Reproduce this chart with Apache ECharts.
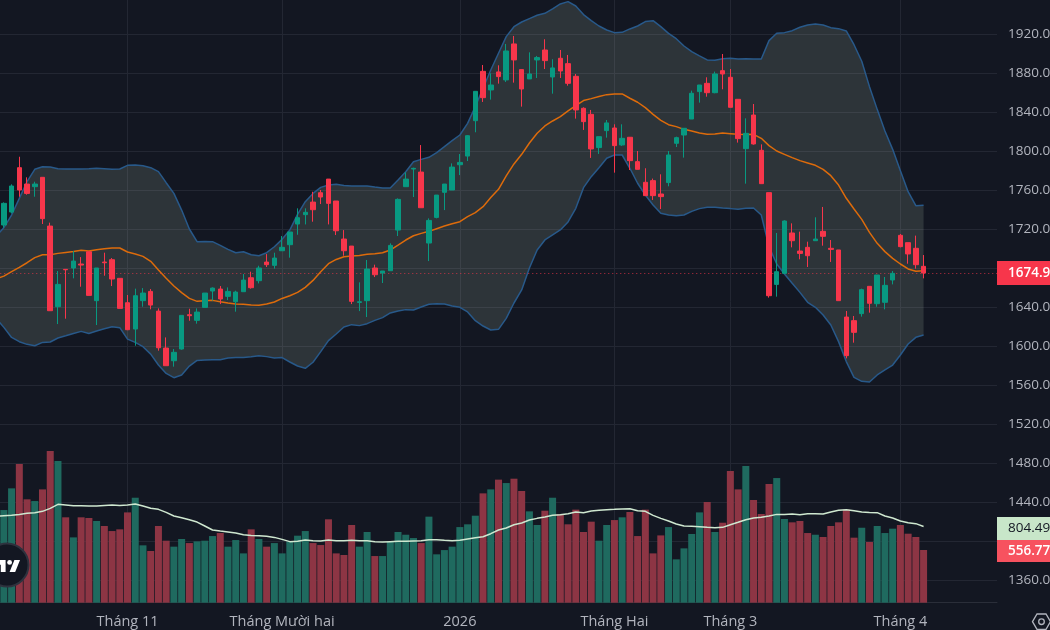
<!DOCTYPE html>
<html lang="vi">
<head>
<meta charset="utf-8">
<title>Chart</title>
<script src="https://cdn.jsdelivr.net/npm/echarts@6/dist/echarts.min.js"></script>
<style>
  html, body { margin: 0; padding: 0; background: #131722; overflow: hidden; }
  #chart { width: 1050px; height: 630px; }
</style>
</head>
<body>
<div id="chart"></div>
<script>
// one empty slot comes first so the lines can run in from the left edge
var monthSlots = [17, 37, 60, 80, 95, 117];
var monthLabels = ['Tháng 11', 'Tháng Mười hai', '2026', 'Tháng Hai', 'Tháng 3', 'Tháng 4'];

var priceTicks = [1320, 1960, 40];

// open, close, low, high
var candles = [
  ['-','-','-','-'],
  [1724.1,1746.3,1721.3,1747.3],[1737.4,1764.1,1736.0,1765.8],[1782.9,1760.0,1753.1,1794.1],[1766.1,1756.5,1755.2,1773.0],
  [1763.4,1766.1,1753.1,1768.5],[1773.0,1730.6,1725.1,1773.0],[1723.0,1636.2,1636.2,1726.5],[1640.3,1663.2,1622.5,1676.9],
  [1678.6,1678.2,1628.0,1678.6],[1680.0,1687.1,1669.4,1697.4],[1684.1,1683.0,1660.8,1691.2],[1696.7,1651.9,1651.9,1696.7],
  [1646.5,1680.0,1621.5,1680.0],[1686.1,1685.4,1672.1,1695.7],[1688.5,1668.7,1661.5,1690.2],[1669.4,1638.6,1638.6,1669.4],
  [1644.4,1616.7,1616.3,1652.3],[1617.4,1651.6,1600.3,1658.8],[1646.5,1654.3,1640.3,1659.4],[1656.0,1642.0,1637.6,1658.4],
  [1635.8,1598.2,1595.2,1638.6],[1597.9,1579.8,1579.8,1608.8],[1584.9,1593.5,1578.8,1596.9],[1596.9,1631.4,1596.2,1631.4],
  [1632.1,1631.1,1625.9,1638.2],[1626.3,1634.8,1622.9,1638.6],[1639.6,1654.3,1639.6,1654.3],[1656.4,1659.4,1646.5,1660.1],
  [1658.4,1648.2,1643.0,1661.5],[1650.9,1656.0,1647.1,1660.1],[1645.4,1655.3,1635.2,1656.7],[1655.7,1667.6,1655.7,1673.8],
  [1670.0,1659.8,1658.8,1676.2],[1667.0,1680.0,1664.2,1682.3],[1686.1,1683.4,1681.0,1694.3],[1682.7,1690.2,1679.3,1695.7],
  [1697.7,1701.2,1697.7,1712.8],[1703.9,1716.9,1690.6,1716.9],[1725.1,1731.6,1714.1,1741.2],[1734.7,1737.1,1724.7,1741.2],
  [1747.6,1739.8,1727.5,1758.2],[1757.2,1752.8,1745.6,1760.0],[1771.2,1746.3,1724.7,1771.2],[1748.7,1718.2,1713.8,1748.7],
  [1709.7,1697.7,1692.6,1718.9],[1702.5,1645.8,1643.0,1702.5],[1644.7,1645.4,1635.8,1665.3],[1646.5,1678.9,1629.7,1688.2],
  [1680.0,1673.1,1670.7,1683.4],[1674.8,1676.9,1664.6,1676.9],[1677.2,1703.2,1677.2,1705.3],[1718.9,1750.4,1712.8,1751.4],
  [1763.4,1771.2,1763.4,1778.1],[1781.5,1782.2,1752.8,1782.9],[1778.4,1741.8,1741.8,1806.1],[1705.6,1728.8,1687.1,1730.9],
  [1731.9,1754.8,1730.9,1754.8],[1757.6,1766.1,1739.4,1766.1],[1760.0,1783.5,1760.0,1787.3],[1785.9,1788.3,1775.3,1796.9],
  [1794.8,1815.7,1789.7,1816.4],[1831.1,1861.2,1819.2,1861.2],[1881.7,1854.7,1850.3,1888.2],[1862.6,1867.7,1852.7,1879.7],
  [1881.1,1876.3,1869.1,1887.9],[1872.9,1902.6,1870.8,1909.8],[1909.8,1893.4,1870.1,1918.0],[1883.5,1863.6,1845.5,1883.5],
  [1873.9,1879.0,1873.9,1901.2],[1893.4,1895.8,1874.9,1897.5],[1903.6,1892.7,1884.1,1914.6],[1875.9,1885.2,1858.8,1894.1],
  [1895.1,1882.1,1874.9,1903.6],[1889.6,1869.4,1867.0,1898.5],[1876.6,1842.1,1833.2,1879.0],[1843.8,1830.1,1821.6,1844.8],
  [1837.6,1802.1,1792.9,1842.1],[1803.5,1814.7,1797.0,1814.7],[1820.9,1828.8,1813.7,1831.8],[1823.6,1805.5,1777.8,1827.4],
  [1806.2,1813.0,1805.2,1827.4],[1814.1,1790.1,1780.5,1814.1],[1789.1,1781.2,1781.2,1800.0],[1767.9,1754.2,1754.2,1782.3],
  [1769.6,1754.2,1749.8,1771.7],[1755.9,1753.2,1740.5,1776.1],[1767.6,1795.9,1763.8,1800.0],[1807.9,1813.7,1804.1,1814.7],
  [1816.4,1823.3,1793.2,1823.3],[1832.8,1859.2,1832.8,1861.9],[1860.9,1867.7,1849.6,1867.7],[1869.4,1859.8,1855.7,1875.6],
  [1859.8,1879.0,1859.2,1881.4],[1882.4,1879.0,1863.3,1899.5],[1875.6,1844.8,1844.8,1884.1],[1853.0,1812.7,1808.6,1853.0],
  [1802.4,1818.1,1766.5,1833.5],[1836.9,1807.2,1806.5,1848.2],[1800.7,1766.5,1766.5,1806.8],[1757.3,1651.6,1649.6,1757.3],
  [1663.2,1676.2,1650.6,1715.9],[1674.5,1728.2,1674.5,1728.9],[1715.9,1708.0,1701.2,1725.8],[1697.4,1695.0,1688.9,1717.3],
  [1701.2,1692.6,1681.0,1707.0],[1708.0,1709.7,1708.0,1732.0],[1717.6,1712.5,1702.9,1742.6],[1700.2,1699.1,1686.2,1708.7],
  [1698.5,1646.5,1646.5,1698.5],[1629.7,1590.1,1587.3,1635.9],[1626.0,1614.0,1603.4,1630.8],[1633.2,1657.8,1630.1,1658.8],
  [1661.2,1643.8,1634.2,1661.2],[1643.4,1672.8,1640.3,1672.8],[1644.8,1662.2,1637.6,1670.8],[1667.7,1674.5,1663.2,1676.9],
  [1713.5,1701.9,1701.2,1714.9],[1706.0,1694.4,1684.4,1706.0],[1700.2,1683.4,1679.3,1713.2],[1681.7,1674.9,1669.4,1693.3]
];

var bandMiddle = [
  1668.7,1671.7,1676.2,1680.6,1685.4,1690.6,1693.6,1693.6,1695,1696,1697,1698.1,1697.4,1698.8,1699.8,1700.5,1700.5,
  1696.4,1694.3,1691.9,1686.8,1677.9,1669.4,1661.5,1654.7,1648.8,1645.8,1646.5,1646.8,1645.4,1644.1,1643,1642.7,1642,1641.7,
  1643,1645.1,1648.8,1651.6,1655,1660.1,1667.3,1676.2,1684.4,1688.8,1691.6,1692.3,1692.9,1694,1694.7,1695.7,1698.4,1703.5,
  1708.7,1713.1,1715.5,1717.6,1720.3,1723,1725.4,1727.5,1732.7,1736.8,1742.9,1752.2,1760.7,1774.4,1786.7,1796.6,1808.2,1818.2,
  1825.7,1830.8,1835.2,1841.1,1846.5,1851.7,1853.7,1855.8,1857.8,1858.5,1858.5,1854.1,1850,1844.5,1837.6,1831.5,1827,1825,
  1822.2,1820.5,1818.5,1817.1,1817.4,1818.5,1817.8,1817.1,1816.8,1817.1,1813,1805.5,1800,1796.6,1793.2,1790.1,1787.7,1785.3,
  1781.2,1774.7,1765.1,1751.5,1740.5,1729.9,1716.6,1705.3,1696.8,1689.9,1684.1,1679,1676.6,1677.3
];

var bandUpper = [
  1712.8,1721.3,1734.3,1751.4,1768.5,1781.2,1783.9,1783.5,1781.8,1781.5,1781.5,1781.5,1781.8,1782.2,1781.8,1781.2,1781.5,
  1785.3,1785.6,1784.9,1782.9,1778.8,1767.5,1756.5,1739.4,1720,1707,1707.3,1707,1703.2,1699.1,1695.7,1696.7,1693.6,1692.6,
  1695.7,1701.8,1709.4,1718.9,1735,1748,1756.5,1762.7,1765.1,1765.8,1764.7,1764.1,1764.1,1764.1,1763,1762,1762,1770.2,
  1778.8,1789,1791.4,1793.5,1798.3,1804.4,1810.6,1816.4,1828.4,1845.5,1864.3,1883.1,1900.2,1917.3,1927.5,1932.3,1935.8,1939.2,
  1941.2,1945.7,1950.8,1953.2,1948.7,1939.9,1933.7,1928.2,1924.1,1921.4,1921.7,1925.2,1928.2,1932.7,1933.7,1927.5,1920.7,1915.2,
  1907.7,1901.9,1897.5,1893.4,1893,1894.7,1895.1,1894.4,1894.7,1894.4,1894.4,1913.2,1920.7,1921.4,1923.4,1926.9,1929.3,1930.3,
  1929.3,1926.5,1925.5,1923.1,1909,1892,1866,1842.7,1820.5,1801.7,1779.8,1758.3,1743.9,1744.3
];

var bandLower = [
  1628.3,1619.1,1608.8,1604.4,1601.7,1600.3,1603.7,1604.1,1608.2,1610.5,1612.9,1615,1612.9,1615.3,1617.7,1619.8,1618.8,
  1607.1,1603.7,1599.3,1591.7,1580.5,1571.9,1567.5,1570.2,1579.4,1585.2,1585.6,1585.9,1585.9,1587.6,1588.3,1588.3,1589,1590,
  1589.1,1587.7,1588.1,1583.6,1579.5,1577.1,1583.3,1594.2,1605.5,1612.3,1619.5,1621.9,1620.9,1622.9,1626.3,1629.1,1633.9,1635.9,
  1637.3,1636.9,1640,1642.8,1643.4,1643.1,1641,1639.7,1634.9,1626,1620.5,1616.4,1617.1,1628.4,1644.1,1657.5,1680,1698.5,
  1708.8,1713.9,1719,1727.2,1741.2,1762.4,1773.7,1782.9,1792.5,1795.9,1795.9,1782.3,1766.9,1754.9,1744.6,1736.1,1734.4,1733.7,
  1734.4,1738.1,1740.9,1742.2,1742.2,1741.5,1740.9,1740.2,1741.2,1741.5,1734.4,1701.9,1684.1,1673.8,1664.3,1655,1644.8,1639.7,
  1631.8,1621.5,1604.5,1584,1567.9,1563.8,1563.1,1570.3,1575.4,1580.5,1590.8,1602.1,1608.9,1611.3
];

var volumes = [
  '-',
  979,1208,1465,1092,1074,1197,1603,1497,902,690,902,895,863,810,757,775,954,1109,606,546,
  810,655,592,673,630,648,655,704,736,592,662,521,775,673,592,630,521,645,708,757,
  630,609,881,521,504,821,592,747,493,493,645,747,718,683,630,909,511,556,592,799,
  828,919,1155,1197,1300,1264,1310,1180,965,821,972,1109,937,828,983,747,856,655,821,873,
  902,958,704,983,521,711,799,458,574,726,954,1064,747,845,1391,1197,1444,1085,937,1254,
  1317,884,849,863,736,718,694,810,849,983,687,792,641,810,736,782,821,729,694,556.77
];

var volumeAverage = [
  912,919,923,933,944,951,965,997,1039,1032,1025,1025,1021,1021,1028,1032,1028,1032,1043,1021,997,
  986,954,916,898,877,852,810,768,757,747,736,718,711,708,701,690,669,645,648,662,
  655,652,662,655,655,659,655,655,645,641,645,648,648,652,655,666,666,659,655,659,
  673,687,697,729,768,789,824,842,873,891,905,923,930,940,958,951,969,976,983,986,
  990,993,972,965,923,891,863,831,810,807,803,796,792,796,824,849,877,895,902,916,
  933,933,937,930,940,940,937,958,976,983,972,958,954,951,916,895,863,845,835,804.49
];

var slotCount = 130;
var categories = [];
for (var i = 0; i < slotCount; i++) {
  var at = monthSlots.indexOf(i);
  categories.push(at >= 0 ? monthLabels[at] : '');
}

var bandSpread = bandUpper.map(function (v, i) { return +(v - bandLower[i]).toFixed(1); });
var lastClose = candles[candles.length - 1][1];
var lastVolume = volumes[volumes.length - 1];
var lastAverage = volumeAverage[volumeAverage.length - 1];

var fontName = '"Open Sans", sans-serif';
var gridColor = '#232733';
var labelColor = '#b2b5be';
var bandColor = '#28598a';
var upColor = '#089981';
var downColor = '#f7364b';
var monthOnly = function (index, value) { return value !== ''; };

var chart = echarts.init(document.getElementById('chart'));
chart.setOption({
  animation: false,
  backgroundColor: '#131722',
  textStyle: { fontFamily: fontName },
  grid: [
    { left: -7.73, top: -5, width: 1004.73, height: 624, outerBoundsMode: 'none' },
    { left: -7.73, top: 0, width: 1004.73, height: 602.7, outerBoundsMode: 'none' }
  ],
  xAxis: [{
    type: 'category',
    gridIndex: 0,
    data: categories,
    show: false
  }, {
    type: 'category',
    gridIndex: 1,
    data: categories,
    axisLine: { lineStyle: { color: '#2a2e39' } },
    axisTick: { show: false },
    axisLabel: {
      interval: monthOnly,
      color: labelColor,
      fontSize: 14.5,
      margin: 12,
      fontFamily: fontName,
      hideOverlap: false
    },
    splitLine: {
      show: true,
      interval: monthOnly,
      alignWithLabel: true,
      lineStyle: { color: gridColor }
    }
  }],
  yAxis: [{
    type: 'value',
    gridIndex: 0,
    position: 'right',
    min: priceTicks[0],
    max: priceTicks[1],
    interval: priceTicks[2],
    axisLine: { show: false },
    axisTick: { show: false },
    axisLabel: {
      color: labelColor,
      fontSize: 13.5,
      margin: 11,
      padding: [2, 0, 0, 0],
      fontFamily: fontName,
      showMinLabel: false,
      showMaxLabel: false,
      formatter: function (v) { return v.toFixed(2); }
    },
    splitLine: {
      showMinLine: false,
      lineStyle: { color: gridColor }
    }
  }, {
    type: 'value',
    gridIndex: 1,
    min: 0,
    max: 6367,
    show: false,
    splitLine: { show: false }
  }],
  series: [{
    type: 'bar',
    name: 'Volume',
    xAxisIndex: 1,
    yAxisIndex: 1,
    barWidth: 7,
    data: volumes,
    z: 1,
    itemStyle: {
      color: function (p) {
        var c = candles[p.dataIndex];
        return c[1] >= c[0] ? '#1f6a5f' : '#8d3544';
      }
    }
  }, {
    type: 'line',
    name: 'Volume MA',
    xAxisIndex: 1,
    yAxisIndex: 1,
    data: volumeAverage,
    symbol: 'none',
    z: 2,
    lineStyle: { color: '#cfe8d0', width: 1.5 }
  }, {
    type: 'line',
    name: 'Lower',
    xAxisIndex: 0,
    yAxisIndex: 0,
    stack: 'band',
    data: bandLower,
    symbol: 'none',
    z: 3,
    lineStyle: { color: bandColor, width: 1.5 }
  }, {
    type: 'line',
    name: 'Upper',
    xAxisIndex: 0,
    yAxisIndex: 0,
    stack: 'band',
    data: bandSpread,
    symbol: 'none',
    z: 3,
    lineStyle: { color: bandColor, width: 1.5 },
    areaStyle: { color: 'rgba(225,245,215,0.13)', opacity: 1 }
  }, {
    type: 'line',
    name: 'Middle',
    xAxisIndex: 0,
    yAxisIndex: 0,
    data: bandMiddle,
    symbol: 'none',
    z: 4,
    lineStyle: { color: '#dd6b0b', width: 1.5 }
  }, {
    type: 'candlestick',
    name: 'Price',
    xAxisIndex: 0,
    yAxisIndex: 0,
    barWidth: 5,
    data: candles,
    z: 5,
    itemStyle: {
      color: upColor,
      color0: downColor,
      borderColor: upColor,
      borderColor0: downColor,
      borderWidth: 1
    },
    markLine: {
      silent: true,
      symbol: 'none',
      precision: 2,
      data: [{ yAxis: lastClose }],
      lineStyle: { color: 'rgba(247,54,75,0.75)', type: [1, 3], width: 1 },
      label: {
        position: 'end',
        distance: 0,
        formatter: lastClose.toFixed(2),
        color: '#ffffff',
        fontSize: 13.5,
        fontWeight: 600,
        fontFamily: fontName,
        backgroundColor: '#f7364b',
        padding: [5, 60, 5, 11]
      }
    }
  }],
  graphic: [
    // volume tags, logo badge, settings icon
    { type: 'rect', shape: { x: 997, y: 517, width: 53, height: 23 }, style: { fill: '#c8e6c9' }, z: 20 },
    { type: 'text', x: 1008, y: 521, z: 21, style: { text: lastAverage.toFixed(2), fill: '#131722', font: '13.5px ' + fontName } },
    { type: 'rect', shape: { x: 997, y: 540, width: 53, height: 22 }, style: { fill: '#f7525f' }, z: 20 },
    { type: 'text', x: 1008, y: 544, z: 21, style: { text: lastVolume.toFixed(2), fill: '#ffffff', font: '600 13.5px ' + fontName } },
    { type: 'circle', shape: { cx: 7, cy: 565, r: 21.5 }, style: { fill: '#131722', stroke: '#2e323e', lineWidth: 2 }, z: 20 },
    { type: 'polygon', shape: { points: [[-4, 560], [5.6, 560], [5.6, 572], [0.8, 572], [0.8, 564.8], [-4, 564.8]] }, style: { fill: '#ffffff' }, z: 21 },
    { type: 'polygon', shape: { points: [[15.2, 572], [9.6, 572], [14.4, 560], [20, 560]] }, style: { fill: '#ffffff' }, z: 21 },
    { type: 'circle', shape: { cx: 9.6, cy: 562.4, r: 2.4 }, style: { fill: '#ffffff' }, z: 21 },
    {
      type: 'polygon',
      shape: { points: [[1032.5, 621.7], [1037, 614], [1046, 614], [1050.5, 621.7], [1046, 629.4], [1037, 629.4]] },
      style: { fill: 'none', stroke: labelColor, lineWidth: 1.3 },
      z: 20
    },
    { type: 'circle', shape: { cx: 1041.5, cy: 621.7, r: 2.8 }, style: { fill: 'none', stroke: labelColor, lineWidth: 1.3 }, z: 20 }
  ]
});

window.onresize = function () {
  chart.resize();
};
</script>
</body>
</html>
